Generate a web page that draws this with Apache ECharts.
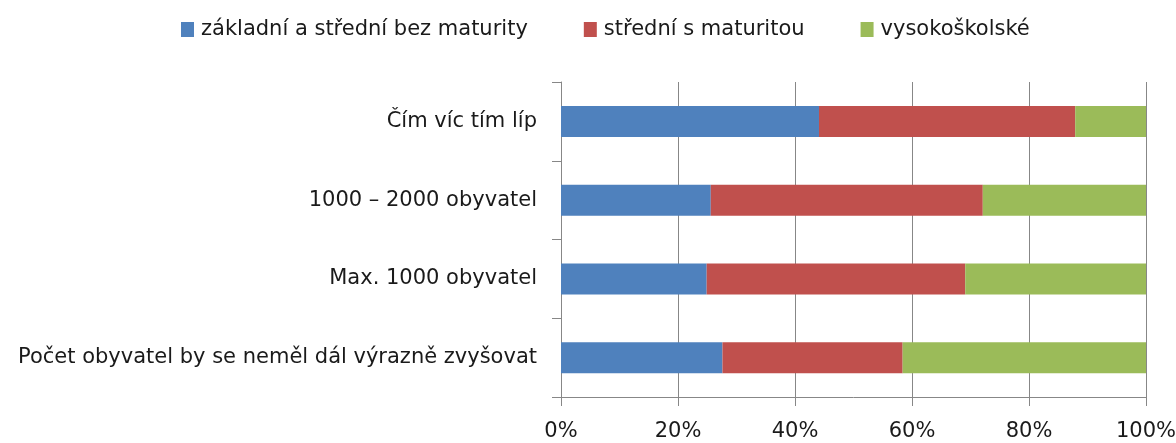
<!DOCTYPE html>
<html>
<head>
<meta charset="utf-8">
<script src="https://cdn.jsdelivr.net/npm/echarts@6/dist/echarts.min.js"></script>
<style>
  html, body { margin: 0; padding: 0; background: #fff; }
  #chart { width: 1176px; height: 443px; }
</style>
</head>
<body>
<div id="chart"></div>
<script>
// kategorie odshora dolů
const categories = [
  'Čím víc tím líp',
  '1000 – 2000 obyvatel',
  'Max. 1000 obyvatel',
  'Počet obyvatel by se neměl dál výrazně zvyšovat'
]
const seriesNames = ['základní a střední bez maturity', 'střední s maturitou', 'vysokoškolské']
// podíly v %
const zakladni = [44.1, 25.6, 24.9, 27.6]
const stredni = [43.8, 46.5, 44.2, 30.8]
const vysoko = [12.1, 27.9, 30.9, 41.6]
const colors = ['#4F81BD', '#C0504D', '#9BBB59']

const font = 'DejaVu Sans'
const fontSize = 21
const gridColor = '#878787'

const makeSeries = (name, data, color) => ({
  name,
  type: 'bar',
  stack: 'total',
  data,
  barWidth: 31,
  itemStyle: { color },
  emphasis: { disabled: true }
})

const chart = echarts.init(document.getElementById('chart'))
chart.setOption({
  animation: false,
  color: colors,
  legend: {
    top: 14,
    left: 176,
    itemWidth: 13,
    itemHeight: 15,
    itemGap: 56,
    icon: 'rect',
    textStyle: { fontFamily: font, fontSize: fontSize, color: '#1a1a1a', padding: [0, 0, 0, 2] },
    data: seriesNames
  },
  // popisky 100% smí přečnívat doprava
  grid: { left: 561, right: 30, top: 82, bottom: 46, outerBoundsMode: 'none' },
  xAxis: {
    type: 'value',
    min: 0,
    max: 100,
    interval: 20,
    axisLabel: {
      formatter: '{value}%',
      fontFamily: font,
      fontSize: fontSize,
      color: '#1a1a1a',
      margin: 24
    },
    axisLine: { show: true, lineStyle: { color: gridColor } },
    axisTick: { show: true, length: 9, lineStyle: { color: gridColor } },
    splitLine: { show: true, lineStyle: { color: gridColor, width: 1 } }
  },
  yAxis: {
    type: 'category',
    inverse: true,
    data: categories,
    axisLabel: {
      fontFamily: font,
      fontSize: fontSize,
      color: '#1a1a1a',
      margin: 24
    },
    axisLine: { show: true, lineStyle: { color: gridColor } },
    axisTick: { show: true, length: 9, lineStyle: { color: gridColor } }
  },
  series: [
    makeSeries(seriesNames[0], zakladni, colors[0]),
    makeSeries(seriesNames[1], stredni, colors[1]),
    makeSeries(seriesNames[2], vysoko, colors[2])
  ]
})
</script>
</body>
</html>
